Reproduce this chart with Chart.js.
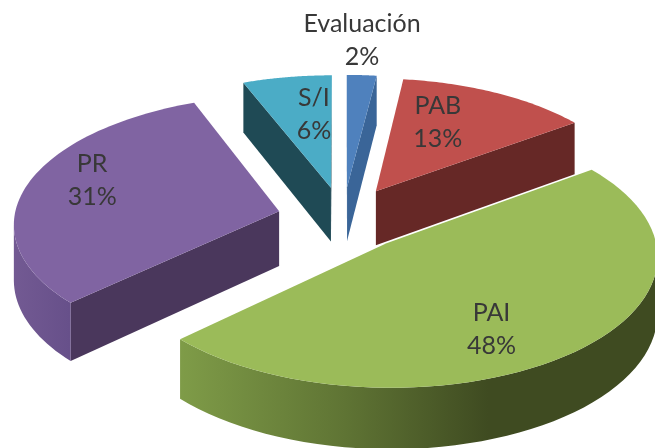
<!DOCTYPE html>
<html>
<head>
<meta charset="utf-8">
<style>html,body{margin:0;padding:0;background:#fff}#wrap{width:655px;height:448px}canvas{filter:blur(0.5px)}</style>
<script src="https://cdn.jsdelivr.net/npm/chart.js@4"></script>
</head>
<body>
<div id="wrap"><canvas id="c" width="655" height="448"></canvas></div>
<script>
const categories = ['Evaluación', 'PAB', 'PAI', 'PR', 'S/I'];
const shareValues = [2, 13, 48, 31, 6];
const explodeOffsets = [48, 48, 49, 48, 48];
const topColors = ['#4F81BD', '#C0504D', '#9BBB59', '#8064A2', '#4BACC6'];
const cutColors = ['#3A6598', '#662826', '#3F4A20', '#4A375C', '#1F4A55'];
const paintOrder = [4, 0, 1, 3, 2];
const labelNudges = [[15, -147], [62, -69], [105, 86], [-187, -31], [-17, -73]];

const FACE_RADIUS = 265, TILT = 0.48, PERSPECTIVE = 0.00033, DEPTH = 55;

function wallFill(ctx, i) {
  if (i === 2) {
    const g = ctx.createLinearGradient(178, 0, 655, 0);
    g.addColorStop(0, '#7F9C48'); g.addColorStop(0.35, '#5F7434');
    g.addColorStop(0.65, '#3F4B21'); g.addColorStop(1, '#3F4B21');
    return g;
  }
  if (i === 3) {
    const g = ctx.createLinearGradient(12, 0, 70, 0);
    g.addColorStop(0, '#735A93'); g.addColorStop(1, '#67508A');
    return g;
  }
  return cutColors[i];
}

const pie3d = {
  id: 'pie3d',
  beforeDatasetDraw(chart, args) {
    const ctx = chart.ctx;
    const arcs = chart.getDatasetMeta(args.index).data;
    const apexes = [];
    const build = (el, i) => {
      const scale = FACE_RADIUS / el.outerRadius;
      const off = el.options.offset * scale;
      const mid = (el.startAngle + el.endAngle) / 2;
      const ax = off * Math.cos(mid), ay = -off * Math.sin(mid);
      const proj = (X, Y) => {
        const p = 1 / (1 + PERSPECTIVE * Y);
        return { x: el.x + X * p, y: el.y - TILT * Y * p, d: DEPTH * p };
      };
      const pts = [proj(ax, ay)];
      const n = 64;
      for (let k = 0; k <= n; k++) {
        const a = el.startAngle + (el.endAngle - el.startAngle) * k / n;
        pts.push(proj(ax + FACE_RADIUS * Math.cos(a), ay - FACE_RADIUS * Math.sin(a)));
      }
      apexes[i] = pts[0];
      return pts;
    };
    const prism = (list, fill) => {
      ctx.beginPath();
      list.forEach((q, k) => k ? ctx.lineTo(q.x, q.y) : ctx.moveTo(q.x, q.y));
      for (let k = list.length - 1; k >= 0; k--) ctx.lineTo(list[k].x, list[k].y + list[k].d);
      ctx.closePath();
      ctx.fillStyle = fill;
      ctx.fill();
    };
    paintOrder.forEach(i => {
      const pts = build(arcs[i], i);
      const m = pts.length;
      // radial cut faces
      const first = [pts[0], pts[1]], last = [pts[m - 1], pts[0]];
      [first, last].forEach(([a, b]) => { if (b.x - a.x < -0.001) prism([a, b], cutColors[i]); });
      // outer rim: the run of arc samples that face the viewer
      let run = [];
      for (let k = 1; k < m; k++) {
        const a = pts[k], b = pts[(k + 1) % m];
        if (k < m - 1 && b.x - a.x < -0.001) { if (!run.length) run.push(a); run.push(b); }
      }
      if (run.length) prism(run, wallFill(ctx, i));
      ctx.beginPath();
      pts.forEach((q, k) => k ? ctx.lineTo(q.x, q.y) : ctx.moveTo(q.x, q.y));
      ctx.closePath();
      ctx.fillStyle = topColors[i];
      ctx.fill();
    });
    ctx.font = '25px Lato, "Open Sans", sans-serif';
    ctx.textAlign = 'center'; ctx.textBaseline = 'middle';
    ctx.fillStyle = '#383838';
    arcs.forEach((el, i) => {
      const lx = apexes[i].x + labelNudges[i][0], ly = apexes[i].y + labelNudges[i][1];
      ctx.fillText(categories[i], lx, ly - 16.5);
      ctx.fillText(shareValues[i] + '%', lx, ly + 16.5);
    });
    return false;
  }
};

new Chart(document.getElementById('c'), {
  type: 'pie',
  data: {
    labels: categories,
    datasets: [{ data: shareValues, backgroundColor: topColors, borderWidth: 0, offset: explodeOffsets }]
  },
  options: {
    responsive: false,
    animation: false,
    rotation: 0,
    layout: { padding: { left: 31, bottom: 12 } },
    plugins: { legend: { display: false }, tooltip: { enabled: false }, title: { display: false } }
  },
  plugins: [pie3d]
});
</script>
</body>
</html>
